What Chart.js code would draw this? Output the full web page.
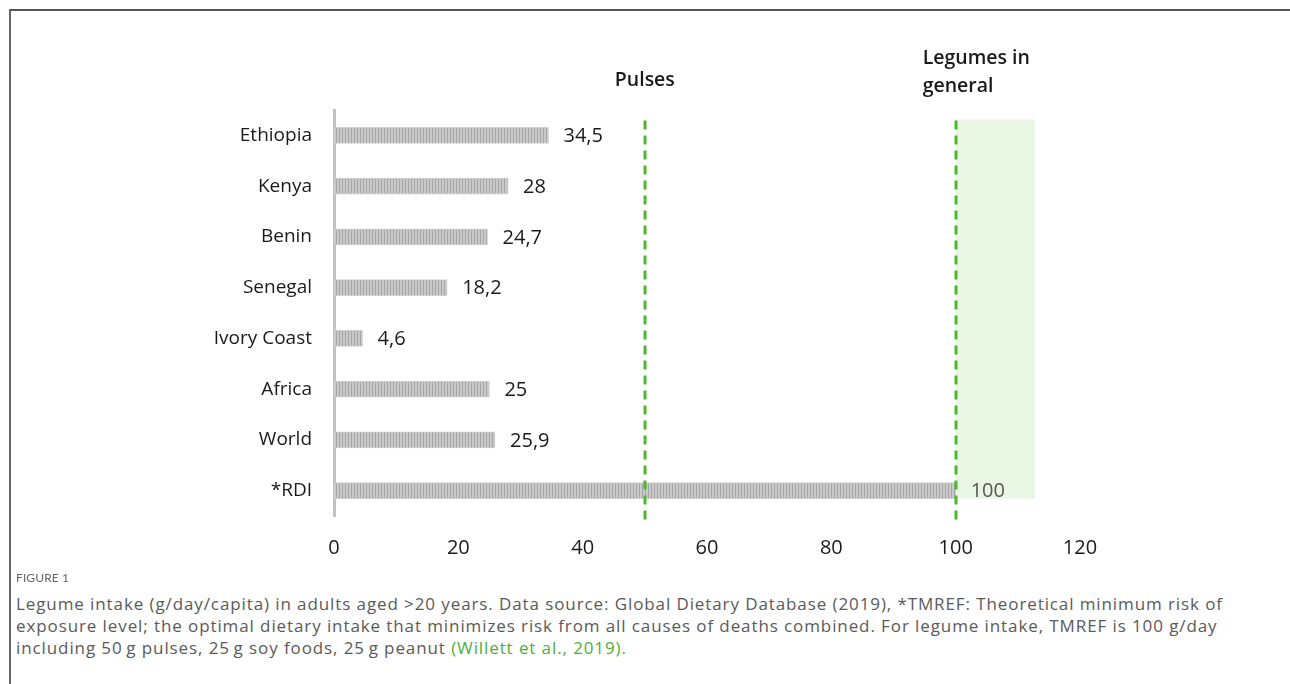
<!DOCTYPE html>
<html>
<head>
<meta charset="utf-8">
<script src="https://cdn.jsdelivr.net/npm/chart.js@4/dist/chart.umd.min.js"></script>
<style>
  body { margin: 0; background: #fff; width: 1290px; height: 684px; overflow: hidden; position: relative; }
  #frame { position: absolute; left: 9px; top: 9px; width: 1300px; height: 700px;
           border-top: 2px solid #555; border-left: 2px solid #666; }
  #wrap { position: absolute; left: 0; top: 0; width: 1290px; height: 580px; }
  #fig { position: absolute; left: 16px; top: 570px; font-family: Lato, sans-serif;
         font-size: 12px; color: #666; letter-spacing: 0.1px; }
  #caption { position: absolute; left: 16px; top: 593px; font-family: 'Open Sans', sans-serif;
             font-size: 17px; line-height: 22px; color: #5a5a5a; white-space: nowrap; letter-spacing: 0.9px; }
  #caption span { color: #4caf3a; }
</style>
</head>
<body>
<div id="frame"></div>
<div id="wrap"><canvas id="graph"></canvas></div>
<div id="fig">FIGURE 1</div>
<div id="caption">Legume intake (g/day/capita) in adults aged &gt;20 years. Data source: Global Dietary Database (2019), *TMREF: Theoretical minimum risk of<br>exposure level; the optimal dietary intake that minimizes risk from all causes of deaths combined. For legume intake, TMREF is 100 g/day<br>including 50&#8201;g pulses, 25&#8201;g soy foods, 25&#8201;g peanut <span>(Willett et al., 2019).</span></div>
<script>
const countries = ["Ethiopia", "Kenya", "Benin", "Senegal", "Ivory Coast", "Africa", "World", "*RDI"];
const intake = [34.5, 28, 24.7, 18.2, 4.6, 25, 25.9, 100];
const valueLabels = ["34,5", "28", "24,7", "18,2", "4,6", "25", "25,9", "100"];
const xTicks = [0, 20, 40, 60, 80, 100, 120];
const pulsesRef = 50;
const legumesRef = 100;
const shadeEnd = 112.7;

const FONT = "'Open Sans', sans-serif";

// striped fill like the original bars
const pc = document.createElement("canvas");
pc.width = 3; pc.height = 4;
const pctx = pc.getContext("2d");
pctx.fillStyle = "#c9c9c9";
pctx.fillRect(0, 0, 3, 4);
pctx.fillStyle = "#a6a6a6";
pctx.fillRect(0, 0, 1, 4);
const graph = document.getElementById("graph").getContext("2d");
const stripes = graph.createPattern(pc, "repeat");

const refPlugin = {
    id: "refs",
    beforeDatasetsDraw(chart) {
        const ctx = chart.ctx, x = chart.scales.x, y = chart.scales.y;
        const top = y.getPixelForValue(0) - 16;
        const bottom = y.getPixelForValue(countries.length - 1) + 8;
        ctx.save();
        ctx.fillStyle = "#e9f6e3";
        ctx.fillRect(x.getPixelForValue(legumesRef), top,
            x.getPixelForValue(shadeEnd) - x.getPixelForValue(legumesRef), bottom - top);
        ctx.restore();
    },
    afterDatasetsDraw(chart) {
        const ctx = chart.ctx, x = chart.scales.x, y = chart.scales.y;
        const top = y.getPixelForValue(0) - 15;
        const bottom = y.getPixelForValue(countries.length - 1) + 29;
        ctx.save();
        ctx.strokeStyle = "#4cb82e";
        ctx.lineWidth = 3;
        ctx.setLineDash([9, 6]);
        [pulsesRef, legumesRef].forEach(v => {
            const px = Math.round(x.getPixelForValue(v));
            ctx.beginPath();
            ctx.moveTo(px, top);
            ctx.lineTo(px, bottom);
            ctx.stroke();
        });
        ctx.setLineDash([]);

        // value labels
        ctx.font = "20px " + FONT;
        ctx.textBaseline = "middle";
        ctx.textAlign = "left";
        chart.getDatasetMeta(0).data.forEach((bar, i) => {
            ctx.fillStyle = i == countries.length - 1 ? "#555" : "#1a1a1a";
            ctx.fillText(valueLabels[i], bar.x + 15, bar.y + 1);
        });

        // reference titles
        ctx.font = "600 19.5px " + FONT;
        ctx.fillStyle = "#1a1a1a";
        ctx.textAlign = "center";
        ctx.fillText("Pulses", x.getPixelForValue(pulsesRef), 80);
        ctx.textAlign = "left";
        const lx = x.getPixelForValue(legumesRef) - 33;
        ctx.fillText("Legumes in", lx, 58);
        ctx.fillText("general", lx, 86);
        ctx.restore();
    }
};

var chart = new Chart(graph, {
    type: "bar",
    data: {
        labels: countries,
        datasets: [
            {
                label: "Legume intake",
                backgroundColor: stripes,
                borderColor: "#d0d0d0",
                borderWidth: 1,
                borderSkipped: false,
                barThickness: 16,
                data: intake
            }
        ]
    },
    options: {
        indexAxis: "y",
        responsive: true,
        maintainAspectRatio: false,
        animation: false,
        layout: { padding: { top: 110, right: 210, left: 0, bottom: 0 } },
        plugins: { legend: { display: false }, tooltip: { enabled: false } },
        scales: {
            x: {
                min: 0,
                max: 120,
                afterBuildTicks: axis => { axis.ticks = xTicks.map(v => ({ value: v })); },
                afterFit: axis => { axis.height = 64; },
                grid: { display: false, drawTicks: false },
                border: { display: false },
                ticks: { color: "#1a1a1a", padding: 20, font: { family: FONT, size: 20 } }
            },
            y: {
                afterFit: axis => { axis.width = 334; },
                grid: { display: false, drawTicks: false },
                border: { display: true, color: "#c2c2c2", width: 3 },
                ticks: { color: "#1a1a1a", padding: 22, font: { family: FONT, size: 19 } }
            }
        }
    },
    plugins: [refPlugin]
});
</script>
</body>
</html>
